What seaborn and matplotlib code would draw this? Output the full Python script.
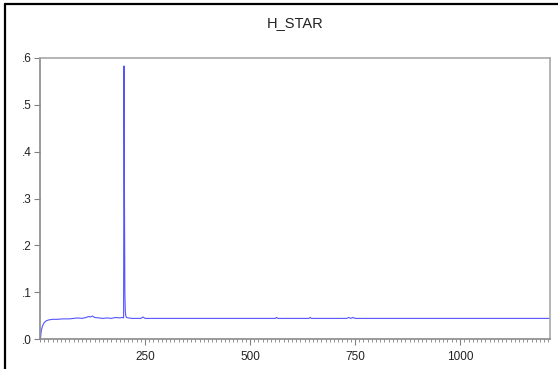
import matplotlib
matplotlib.use('Agg')
import matplotlib.pyplot as plt
from matplotlib.lines import Line2D
from matplotlib.ticker import FuncFormatter, MultipleLocator
import seaborn as sns
import pandas as pd

obs = [1, 3, 6, 10, 15, 22, 30, 40, 55, 70, 80, 90, 100, 110, 115, 120, 125,
       130, 140, 150, 160, 170, 180, 190, 196, 199, 200, 201, 202, 203, 204,
       206, 210, 220, 240, 245, 250, 300, 400, 560, 563, 566, 600, 640, 643,
       646, 700, 730, 735, 740, 745, 750, 1000, 1214]
h_star = [0.0, 0.018, 0.028, 0.035, 0.039, 0.041, 0.042, 0.042, 0.043, 0.043,
          0.044, 0.045, 0.044, 0.046, 0.048, 0.047, 0.049, 0.046, 0.045, 0.044,
          0.045, 0.044, 0.046, 0.045, 0.046, 0.045, 0.583, 0.314, 0.10, 0.06,
          0.05, 0.046, 0.045, 0.044, 0.044, 0.047, 0.044, 0.044, 0.044, 0.044,
          0.046, 0.044, 0.044, 0.044, 0.046, 0.044, 0.044, 0.044, 0.046, 0.044,
          0.046, 0.044, 0.044, 0.044]
x_ticks = [250, 500, 750, 1000]
y_ticks = [0.0, 0.1, 0.2, 0.3, 0.4, 0.5, 0.6]

df = pd.DataFrame({'obs': obs, 'H_STAR': h_star})

sns.set_style('white')
plt.rcParams['font.family'] = ['Liberation Sans', 'DejaVu Sans']

fig = plt.figure(figsize=(5.58, 3.69), dpi=100)
ax = fig.add_axes([40 / 558, 1 - 339 / 369, 510 / 558, 281 / 369])

sns.lineplot(data=df, x='obs', y='H_STAR', ax=ax, color='#5555ff',
             linewidth=0.8)

ax.set_xlim(0, 1214)
ax.set_ylim(0, 0.6)
ax.set_xticks(x_ticks)
ax.set_yticks(y_ticks)
ax.xaxis.set_minor_locator(MultipleLocator(10))
ax.yaxis.set_major_formatter(
    FuncFormatter(lambda v, p: f'{v:.1f}'.lstrip('0')))
ax.set_xlabel('')
ax.set_ylabel('')
ax.set_title('H_STAR', fontsize=10.5, color='#222222', pad=22)

ax.tick_params(axis='both', which='major', direction='out', length=4,
               width=0.8, color='#808080', labelsize=8.5, labelcolor='#222222',
               pad=2, bottom=True, left=True)
ax.tick_params(axis='x', which='minor', direction='out', length=2.5,
               width=0.6, color='#808080', bottom=True)
ax.tick_params(axis='x', which='major', pad=5)

for side in ['left', 'bottom']:
    ax.spines[side].set_color('#8a8a8a')
    ax.spines[side].set_linewidth(1.2)
for side in ['top', 'right']:
    ax.spines[side].set_color('#a8a8a8')
    ax.spines[side].set_linewidth(1.2)

# black screenshot frame on the left and top edges
fig.add_artist(Line2D([5 / 558, 5 / 558], [0, 1 - 4 / 369], color='black',
                      linewidth=1.6, transform=fig.transFigure))
fig.add_artist(Line2D([5 / 558, 1], [1 - 4 / 369, 1 - 4 / 369], color='black',
                      linewidth=1.6, transform=fig.transFigure))

fig.savefig('out.png', dpi=100)
